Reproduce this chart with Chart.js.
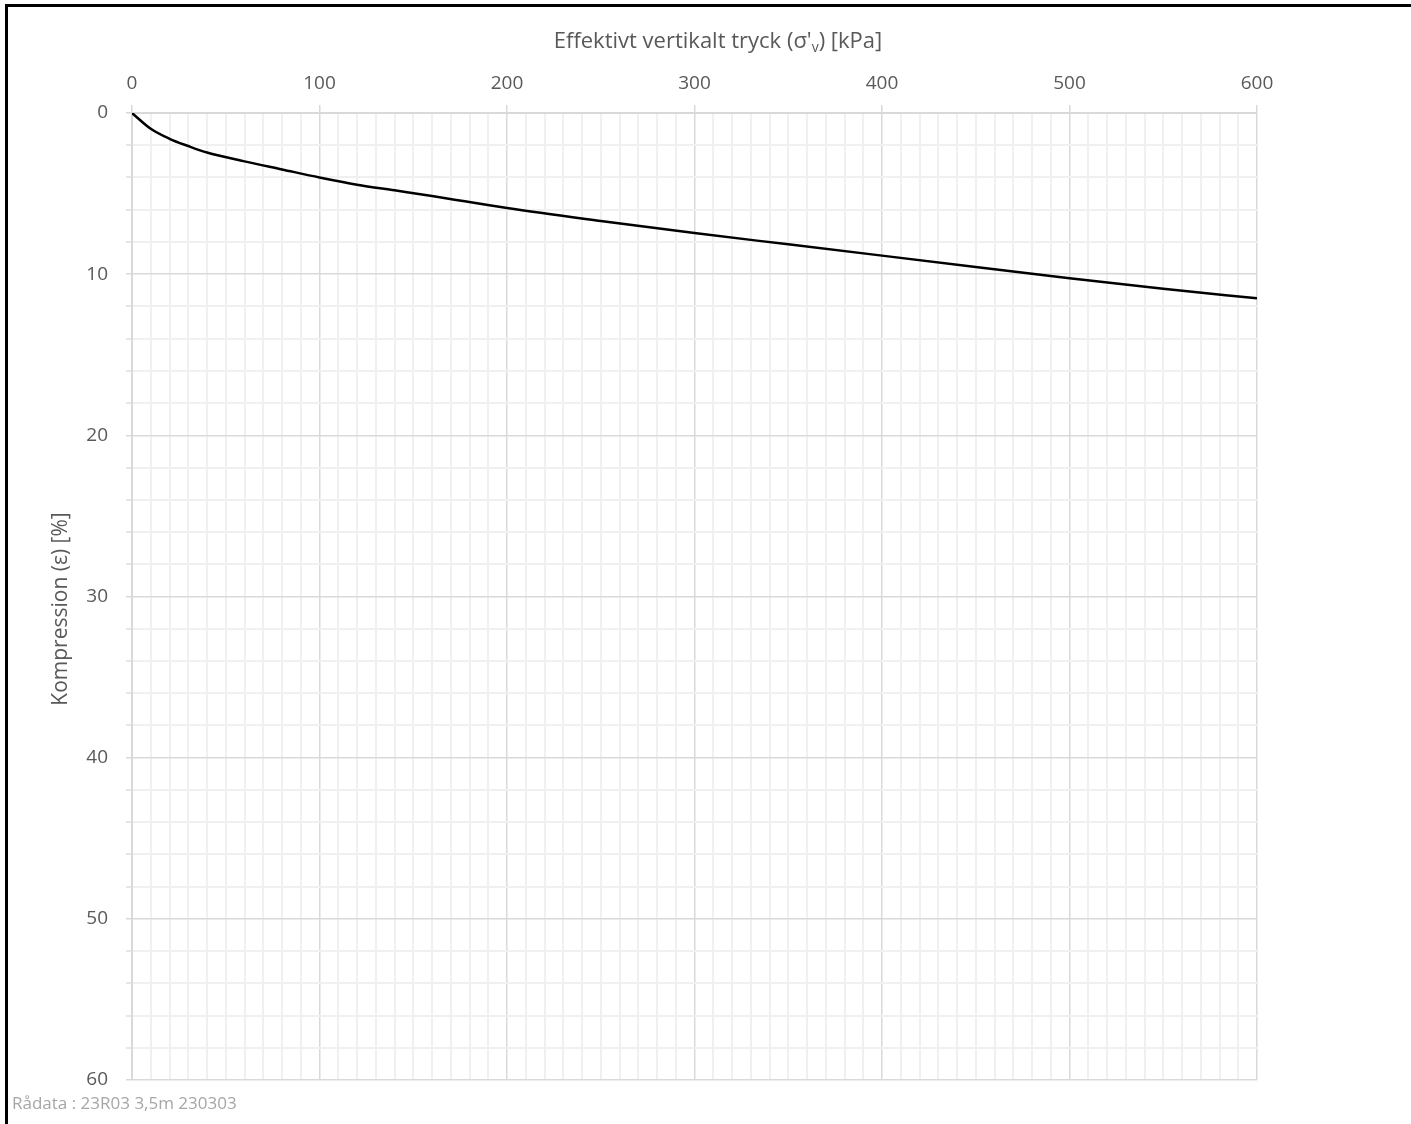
<!DOCTYPE html>
<html>
<head>
<meta charset="utf-8">
<script src="https://cdn.jsdelivr.net/npm/chart.js@4.4.1/dist/chart.umd.min.js"></script>
<style>
  html, body { margin: 0; padding: 0; background: #fff; }
  #wrap { position: relative; width: 1411px; height: 1124px; overflow: hidden; }
  #frame { position: absolute; left: 5px; top: 4px; right: 0; bottom: 0; border-top: 3px solid #000; border-left: 3px solid #000; }
  #c { position: absolute; left: 0; top: 0; }
  #foot { position: absolute; left: 12px; top: 1091px; font-family: "Open Sans", sans-serif; font-size: 17px; color: #a6a6a6; white-space: nowrap; }
</style>
</head>
<body>
<div id="wrap">
  <canvas id="c" width="1411" height="1124"></canvas>
  <div id="frame"></div>
  <div id="foot">Rådata : 23R03 3,5m 230303</div>
</div>
<script>
const pressure = [0, 10, 20, 30, 40, 60, 80, 100, 120, 140, 160, 200, 250, 300, 350, 400, 450, 500, 550, 600];
const compression = [0, 0.98, 1.6, 2.05, 2.45, 3.0, 3.5, 4.0, 4.45, 4.8, 5.15, 5.9, 6.7, 7.45, 8.15, 8.85, 9.55, 10.25, 10.9, 11.5];
const xTitleParts = ["Effektivt vertikalt tryck (σ'", "v", ") [kPa]"];
const yTitle = "Kompression (ε) [%]";
const xMajor = 100, xMinor = 10, xMax = 600;
const yMajor = 10, yMinor = 2, yMax = 60;

const points = pressure.map((p, i) => ({ x: p, y: compression[i] }));
const FONT = '"Open Sans", sans-serif';
const TEXT = '#595959';

function isMajor(v, step) { return Math.abs(v / step - Math.round(v / step)) < 1e-6; }

const titlePlugin = {
  id: 'axisTitles',
  afterDraw(chart) {
    const ctx = chart.ctx;
    ctx.save();
    ctx.fillStyle = TEXT;
    ctx.textBaseline = 'alphabetic';
    const big = '22px ' + FONT, small = '14px ' + FONT;
    ctx.font = big;
    const w0 = ctx.measureText(xTitleParts[0]).width;
    const w2 = ctx.measureText(xTitleParts[2]).width;
    ctx.font = small;
    const w1 = ctx.measureText(xTitleParts[1]).width;
    const total = w0 + w1 + w2;
    const cx = 718, base = 48;
    let x = cx - total / 2;
    ctx.textAlign = 'left';
    ctx.font = big; ctx.fillText(xTitleParts[0], x, base); x += w0;
    ctx.font = small; ctx.fillText(xTitleParts[1], x, base + 4); x += w1;
    ctx.font = big; ctx.fillText(xTitleParts[2], x, base);
    // Y title rotated
    ctx.translate(67, 609);
    ctx.rotate(-Math.PI / 2);
    ctx.textAlign = 'center';
    ctx.textBaseline = 'alphabetic';
    ctx.font = '21px ' + FONT;
    ctx.fillText(yTitle, 0, 0);
    ctx.restore();
  }
};

new Chart(document.getElementById('c'), {
  type: 'scatter',
  data: {
    datasets: [{
      data: points,
      showLine: true,
      borderColor: '#000',
      borderWidth: 2.5,
      pointRadius: 0,
      cubicInterpolationMode: 'monotone',
      fill: false
    }]
  },
  options: {
    responsive: false,
    animation: false,
    layout: { padding: { top: 0, left: 0, right: 154, bottom: 44 } },
    plugins: { legend: { display: false }, tooltip: { enabled: false } },
    scales: {
      x: {
        type: 'linear',
        position: 'top',
        min: 0, max: xMax,
        afterFit: s => { s.height = 113; },
        afterBuildTicks: s => {
          const t = [];
          for (let v = 0; v <= xMax + 1e-9; v += xMinor) t.push({ value: Math.round(v) });
          s.ticks = t;
        },
        ticks: {
          autoSkip: false,
          maxRotation: 0,
          padding: 10,
          color: TEXT,
          font: { family: FONT, size: 19 },
          callback: v => isMajor(v, xMajor) ? String(v) : ''
        },
        grid: {
          color: c => isMajor(c.tick.value, xMajor) ? '#d9d9d9' : '#f0f0f0',
          lineWidth: c => isMajor(c.tick.value, xMajor) ? 1.5 : 2,
          tickColor: c => isMajor(c.tick.value, xMajor) ? '#d9d9d9' : 'rgba(0,0,0,0)',
          tickLength: 8
        },
        border: { color: '#d9d9d9', width: 2 },
        title: { display: false }
      },
      y: {
        type: 'linear',
        position: 'left',
        reverse: true,
        min: 0, max: yMax,
        afterFit: s => { s.width = 132; },
        afterBuildTicks: s => {
          const t = [];
          for (let v = 0; v <= yMax + 1e-9; v += yMinor) t.push({ value: Math.round(v) });
          s.ticks = t;
        },
        ticks: {
          autoSkip: false,
          padding: 18,
          color: TEXT,
          font: { family: FONT, size: 19 },
          callback: v => isMajor(v, yMajor) ? String(v) : ''
        },
        grid: {
          color: c => isMajor(c.tick.value, yMajor) ? '#d9d9d9' : '#f0f0f0',
          lineWidth: c => isMajor(c.tick.value, yMajor) ? 1.5 : 2,
          tickColor: c => isMajor(c.tick.value, yMajor) ? '#d9d9d9' : '#e6e6e6',
          tickLength: 6
        },
        border: { color: '#d9d9d9', width: 2 },
        title: { display: false }
      }
    }
  },
  plugins: [titlePlugin]
});
</script>
</body>
</html>
